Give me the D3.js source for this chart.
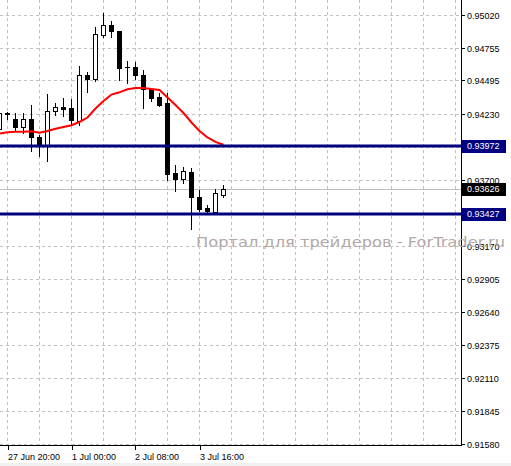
<!DOCTYPE html>
<html><head><meta charset="utf-8">
<script src="https://cdn.jsdelivr.net/npm/d3@7"></script>
<style>body{margin:0;background:#fff}svg{display:block}</style>
</head><body>
<script>
// ---- data ----
const barTimes = ["27 Jun 16:00","27 Jun 20:00","29 Jun 20:00","30 Jun 00:00","30 Jun 04:00","30 Jun 08:00","30 Jun 12:00","30 Jun 16:00","30 Jun 20:00","1 Jul 00:00","1 Jul 04:00","1 Jul 08:00","1 Jul 12:00","1 Jul 16:00","1 Jul 20:00","2 Jul 00:00","2 Jul 04:00","2 Jul 08:00","2 Jul 12:00","2 Jul 16:00","2 Jul 20:00","3 Jul 00:00","3 Jul 04:00","3 Jul 08:00","3 Jul 12:00","3 Jul 16:00","3 Jul 20:00","4 Jul 00:00","4 Jul 04:00"];
const opens  = [0.94103,0.94232,0.94184,0.94124,0.94184,0.94039,0.93975,0.94248,0.94280,0.94274,0.94172,0.94536,0.94509,0.94857,0.94937,0.94889,0.94607,0.94601,0.94536,0.94423,0.94365,0.94314,0.93751,0.93703,0.93759,0.93558,0.93472,0.93444,0.93579];
const highs  = [0.94250,0.94242,0.94232,0.94232,0.94301,0.94055,0.94384,0.94312,0.94354,0.94349,0.94611,0.94563,0.94921,0.95038,0.94974,0.94889,0.94649,0.94643,0.94579,0.94435,0.94392,0.94392,0.93817,0.93804,0.93797,0.93617,0.93498,0.93625,0.93654];
const lows   = [0.94090,0.94186,0.94092,0.94071,0.93932,0.93889,0.93852,0.94216,0.94210,0.94146,0.94136,0.94403,0.94493,0.94841,0.94841,0.94499,0.94477,0.94504,0.94274,0.94328,0.94290,0.93697,0.93605,0.93675,0.93302,0.93452,0.93435,0.93430,0.93558];
const closes = [0.94232,0.94229,0.94124,0.94184,0.94039,0.93975,0.94248,0.94280,0.94269,0.94178,0.94536,0.94509,0.94868,0.94937,0.94894,0.94595,0.94603,0.94536,0.94429,0.94358,0.94296,0.93745,0.93707,0.93767,0.93558,0.93468,0.93451,0.93590,0.93626];
const maValues = [0.94070,0.94079,0.94084,0.94084,0.94087,0.94076,0.94090,0.94108,0.94122,0.94136,0.94162,0.94198,0.94270,0.94330,0.94382,0.94400,0.94424,0.94435,0.94435,0.94427,0.94419,0.94358,0.94298,0.94234,0.94158,0.94090,0.94038,0.94002,0.93980];
const yGridValues = [0.95020,0.94755,0.94495,0.94230,0.93965,0.93700,0.93435,0.93170,0.92905,0.92640,0.92375,0.92110,0.91845,0.91580];
const yTickLabels = ["0.95020","0.94755","0.94495","0.94230","","0.93700","","0.93170","0.92905","0.92640","0.92375","0.92110","0.91845","0.91580"];
const levelLines = [0.93972, 0.93427];
const bidPrice = 0.93626;
const xTickBars = [1, 9, 17, 25];
const xTickLabels = ["27 Jun 20:00","1 Jul 00:00","2 Jul 08:00","3 Jul 16:00"];
const watermark = "Портал для трейдеров - ForTrader.ru";

// ---- layout ----
const W = 511, H = 466, plotR = 461, plotB = 446;
const svg = d3.select("body").append("svg").attr("width", W).attr("height", H);
svg.append("rect").attr("width", W).attr("height", H).attr("fill", "#fff");
svg.append("rect").attr("x",0).attr("y",463).attr("width",W).attr("height",3).attr("fill","#f0f0f0");

const x = d3.scaleLinear().domain([0, 57.6875]).range([-0.5, plotR]);
const y = d3.scaleLinear().domain([0.915638, 0.951403]).range([plotB, 0]);
const py = v => Math.round(y(v)) + 0.5;
const font = "Liberation Sans, Arial, sans-serif";

const clip = svg.append("clipPath").attr("id","pc").append("rect").attr("x",0).attr("y",0).attr("width",plotR).attr("height",plotB);
const plot = svg.append("g").attr("clip-path","url(#pc)");

// grid
const vBars = d3.range(1, 58, 4);
plot.selectAll(".vg").data(vBars).enter().append("line")
  .attr("x1", d => x(d)).attr("x2", d => x(d)).attr("y1", 0).attr("y2", plotB)
  .attr("stroke", "#c0c0c0").attr("stroke-dasharray", "3,3");
plot.selectAll(".hg").data(yGridValues).enter().append("line")
  .attr("x1", 0).attr("x2", plotR).attr("y1", d => py(d)).attr("y2", d => py(d))
  .attr("stroke", "#c0c0c0").attr("stroke-dasharray", "3,3");

// bid line
plot.append("line").attr("x1",0).attr("x2",plotR).attr("y1",py(bidPrice)).attr("y2",py(bidPrice))
  .attr("stroke","#c0c0c0").attr("stroke-width",1);

// candles
const bars = barTimes.map((t, i) => ({i, t, o: opens[i], h: highs[i], l: lows[i], c: closes[i]}));
const cg = plot.selectAll(".c").data(bars).enter().append("g");
cg.append("line").attr("x1", d => x(d.i)).attr("x2", d => x(d.i))
  .attr("y1", d => Math.round(y(d.h))).attr("y2", d => Math.round(y(d.l)) + 1)
  .attr("stroke", "#000");
cg.append("rect")
  .attr("x", d => x(d.i) - 2)
  .attr("y", d => Math.round(y(Math.max(d.o, d.c))) + 0.5)
  .attr("width", 4)
  .attr("height", d => Math.max(0.01, Math.round(y(Math.min(d.o, d.c))) - Math.round(y(Math.max(d.o, d.c)))))
  .attr("fill", d => d.c >= d.o ? "#fff" : "#000")
  .attr("stroke", "#000").attr("stroke-width", 1);

// moving average
plot.append("path").datum(maValues)
  .attr("d", d3.line().x((d, i) => x(i)).y(d => y(d)))
  .attr("fill", "none").attr("stroke", "#ff0000").attr("stroke-width", 2);

// level lines
plot.selectAll(".lv").data(levelLines).enter().append("line")
  .attr("x1", 0).attr("x2", plotR).attr("y1", d => Math.round(y(d))).attr("y2", d => Math.round(y(d)))
  .attr("stroke", "#000080").attr("stroke-width", 3);

// axes lines
svg.append("line").attr("x1", plotR + 0.5).attr("x2", plotR + 0.5).attr("y1", 0).attr("y2", plotB)
  .attr("stroke", "#000");
svg.append("line").attr("x1", 0).attr("x2", plotR + 1).attr("y1", plotB - 0.5).attr("y2", plotB - 0.5)
  .attr("stroke", "#000");

// y ticks
yGridValues.forEach((v, i) => {
  svg.append("line").attr("x1", plotR + 1).attr("x2", plotR + 4).attr("y1", py(v)).attr("y2", py(v)).attr("stroke", "#000");
  if (yTickLabels[i]) svg.append("text").attr("x", 467).attr("y", py(v)).attr("dy", "0.35em")
    .attr("font-family", font).attr("font-size", 9).attr("fill", "#000").text(yTickLabels[i]);
});

// watermark
svg.append("text").attr("x", 196).attr("y", 247).attr("font-family", "DejaVu Sans, sans-serif")
  .attr("font-size", 14).attr("fill", "#b4a8a8").attr("textLength", 309).attr("lengthAdjust", "spacingAndGlyphs")
  .text(watermark);

// level labels
const boxes = levelLines.map(v => ({v, bg: "#000080"})).concat([{v: bidPrice, bg: "#000"}]);
boxes.forEach(b => {
  const yy = Math.round(y(b.v));
  svg.append("rect").attr("x", 462).attr("y", yy - 6).attr("width", 44).attr("height", 13).attr("fill", b.bg);
  svg.append("text").attr("x", 467).attr("y", yy).attr("dy", "0.35em")
    .attr("font-family", font).attr("font-size", 9).attr("fill", "#fff").text(b.v.toFixed(5));
});

// x ticks
xTickBars.forEach((b, i) => {
  const xx = Math.round(x(b)) + 0.5;
  svg.append("line").attr("x1", xx).attr("x2", xx).attr("y1", plotB).attr("y2", plotB + 4).attr("stroke", "#000");
  svg.append("text").attr("x", xx - 0.5).attr("y", 460).attr("font-family", font).attr("font-size", 9)
    .attr("fill", "#000").text(xTickLabels[i]);
});
</script>
</body></html>
